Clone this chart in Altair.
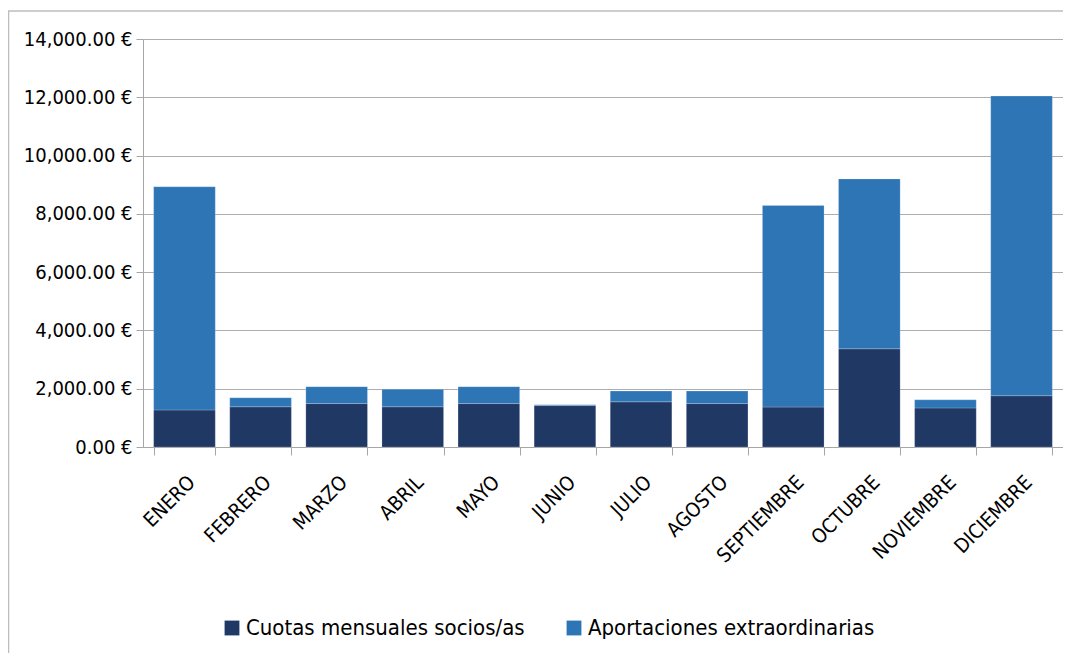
import altair as alt
import pandas as pd

meses = ["ENERO", "FEBRERO", "MARZO", "ABRIL", "MAYO", "JUNIO", "JULIO",
         "AGOSTO", "SEPTIEMBRE", "OCTUBRE", "NOVIEMBRE", "DICIEMBRE"]
cuotas = [1270, 1380, 1490, 1380, 1490, 1420, 1550, 1490, 1370, 3370, 1340, 1760]
aportaciones = [7660, 310, 580, 600, 580, 30, 370, 430, 6920, 5830, 280, 10280]
series = ["Cuotas mensuales socios/as", "Aportaciones extraordinarias"]
colores = ["#203864", "#2E75B6"]
y_ticks = [0, 2000, 4000, 6000, 8000, 10000, 12000, 14000]

rows = []
for i, m in enumerate(meses):
    rows.append({"mes": m, "serie": series[0], "valor": cuotas[i], "orden": 0})
    rows.append({"mes": m, "serie": series[1], "valor": aportaciones[i], "orden": 1})
df = pd.DataFrame(rows)

FONT = "DejaVu Sans Condensed, DejaVu Sans, sans-serif"

bars = alt.Chart(df).mark_bar(stroke="#ffffff", strokeWidth=0.5, strokeOpacity=0.4).encode(
    x=alt.X("mes:N", sort=meses, title=None,
            scale=alt.Scale(paddingInner=0.19, paddingOuter=0.14),
            axis=alt.Axis(labelAngle=-45, labelAlign="right", labelBaseline="top",
                          labelPadding=17, tickBand="extent", tickSize=8,
                          tickColor="#A6A6A6", domainColor="#A6A6A6",
                          labelFont=FONT, labelFontSize=20, labelColor="#000000",
                          grid=False)),
    y=alt.Y("valor:Q", stack="zero", title=None,
            scale=alt.Scale(domain=[0, 14000], nice=False),
            axis=alt.Axis(values=y_ticks,
                          labelExpr="format(datum.value, ',.2f') + ' €'",
                          tickSize=7, tickColor="#A6A6A6", domainColor="#A6A6A6",
                          gridColor="#ADADAD", gridWidth=1.2,
                          labelFont=FONT, labelFontSize=20, labelColor="#000000",
                          labelPadding=4)),
    color=alt.Color("serie:N", scale=alt.Scale(domain=series, range=colores),
                    legend=alt.Legend(title=None, orient="none", direction="horizontal",
                                      legendX=78, legendY=578,
                                      symbolType="square", symbolSize=220,
                                      symbolStrokeWidth=0, symbolOpacity=1,
                                      labelFont=FONT, labelFontSize=22,
                                      labelColor="#000000", columnPadding=38,
                                      labelOffset=3, labelLimit=400)),
    order=alt.Order("orden:Q", sort="ascending"),
)

frame = alt.Chart(pd.DataFrame({"k": [0]})).mark_rect(
    fill=None, stroke="#BDBDBD", strokeWidth=1.5
).encode(
    x=alt.value(-134.5), x2=alt.value(960),
    y=alt.value(-28), y2=alt.value(700),
)

chart = alt.layer(frame, bars).properties(
    width=920, height=408,
    padding={"left": 135, "top": 31, "right": 0, "bottom": 206},
    autosize=alt.AutoSizeParams(type="none"),
).configure_view(stroke=None).configure(background="#ffffff")

chart.save("out.html", embed_options={"renderer": "svg", "actions": False})
